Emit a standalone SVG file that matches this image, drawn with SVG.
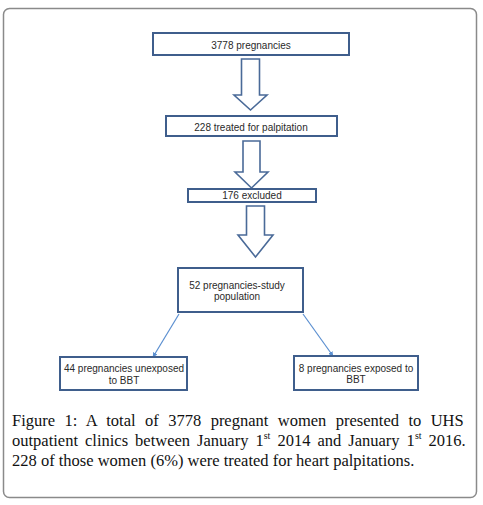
<svg xmlns="http://www.w3.org/2000/svg" width="483" height="505" viewBox="0 0 483 505">
<defs>
<style>
.box{fill:#ffffff;stroke:#3f5e8c;stroke-width:2}
.blk{fill:#ffffff;stroke:#4a6a98;stroke-width:1.6;stroke-linejoin:miter}
.lbl{font-family:"Liberation Sans",Arial,sans-serif;font-size:10px;fill:#2a2a2a;text-anchor:middle}
.cap{font-family:"Liberation Serif","Times New Roman",serif;font-size:16.5px;fill:#111111}
.con{stroke:#5b8fd0;stroke-width:1.2;fill:none}
</style>
<marker id="ah" viewBox="0 0 10 10" refX="9" refY="5" markerWidth="5" markerHeight="5" orient="auto" markerUnits="userSpaceOnUse">
<path d="M0,0 L10,5 L0,10 Z" fill="#5b8fd0"/>
</marker>
</defs>
<rect x="0" y="0" width="483" height="505" fill="#ffffff"/>
<rect x="3.5" y="8.5" width="473" height="489" rx="6" ry="6" fill="#ffffff" stroke="#8a8a8a" stroke-width="1.5"/>

<g id="connectors">
<polygon class="blk" points="241.5,59 259.5,59 259.5,95 267,95 250.5,110 234,95 241.5,95"/>
<polygon class="blk" points="243,141 260,141 260,172 268,172 251.5,188 235,172 243,172"/>
<polygon class="blk" points="246.5,206 264.5,206 264.5,235 273,235 255.5,257 238,235 246.5,235"/>
<line class="con" x1="179" y1="314" x2="153" y2="357" marker-end="url(#ah)"/>
<line class="con" x1="303" y1="314" x2="333" y2="356" marker-end="url(#ah)"/>
</g>

<g id="n1">
<rect class="box" x="153" y="33" width="196" height="22"/>
<text class="lbl" x="251" y="48.5">3778 pregnancies</text>
</g>
<g id="n2">
<rect class="box" x="166" y="116" width="171" height="20"/>
<text class="lbl" x="251" y="130.5">228 treated for palpitation</text>
</g>
<g id="n3">
<rect class="box" x="188" y="189" width="128" height="13"/>
<text class="lbl" x="252" y="199">176 excluded</text>
</g>
<g id="n4">
<rect class="box" x="178" y="268" width="125" height="44"/>
<text class="lbl" x="237" y="288.5">52 pregnancies-study</text>
<text class="lbl" x="237" y="299.5">population</text>
</g>
<g id="n5">
<rect class="box" x="60" y="357" width="127" height="33"/>
<text class="lbl" x="124" y="371.5">44 pregnancies unexposed</text>
<text class="lbl" x="124" y="383.5">to BBT</text>
</g>
<g id="n6">
<rect class="box" x="294" y="356" width="124" height="34"/>
<text class="lbl" x="356" y="371.5">8 pregnancies exposed to</text>
<text class="lbl" x="356" y="382.5">BBT</text>
</g>

<g id="caption">
<text class="cap" x="12" y="425.5" word-spacing="5.3">Figure 1: A total of 3778 pregnant women presented to UHS</text>
<text class="cap" x="12" y="445.5" word-spacing="2.9">outpatient clinics between January 1<tspan font-size="10" dy="-6.5">st</tspan><tspan dy="6.5"> 2014 and January 1</tspan><tspan font-size="10" dy="-6.5">st</tspan><tspan dy="6.5"> 2016.</tspan></text>
<text class="cap" x="12" y="465.5">228 of those women (6%) were treated for heart palpitations.</text>
</g>
</svg>
